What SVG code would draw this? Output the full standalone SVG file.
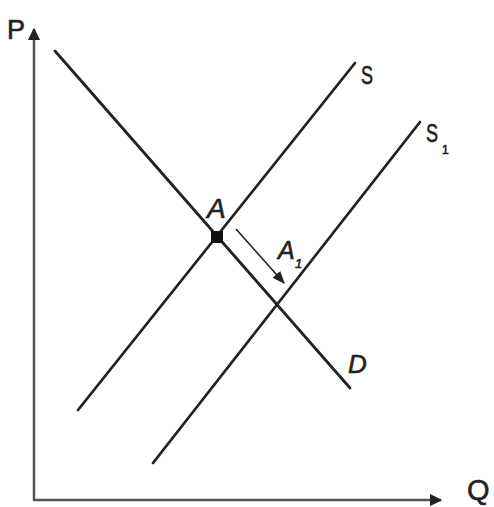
<svg xmlns="http://www.w3.org/2000/svg" width="494" height="507" viewBox="0 0 494 507">
<defs>
<style>
.ax{stroke:#555;stroke-width:2.5;fill:none}
.cv{stroke:#222;stroke-width:2.8;fill:none;stroke-linecap:round}
.lb{font-family:"Liberation Sans",Arial,sans-serif;fill:#222;stroke:#222;stroke-width:0.6}
.it{font-style:italic}
</style>
<marker id="ah" viewBox="0 0 10 10" refX="9" refY="5" markerWidth="5" markerHeight="5" orient="auto" markerUnits="strokeWidth">
<path d="M0,0 L10,5 L0,10 Z" fill="#222"/>
</marker>
<marker id="ahs" viewBox="0 0 10 10" refX="9" refY="5" markerWidth="8" markerHeight="8" orient="auto" markerUnits="strokeWidth">
<path d="M0,1 L10,5 L0,9 Z" fill="#222"/>
</marker>
</defs>
<rect width="494" height="507" fill="#fff"/>
<g id="axes">
<line class="ax" x1="34" y1="500" x2="34" y2="29" marker-end="url(#ah)"/>
<line class="ax" x1="33" y1="500" x2="441" y2="500" marker-end="url(#ah)"/>
<text class="lb" x="7" y="39" font-size="27">P</text>
<text class="lb" x="467" y="500" font-size="29">Q</text>
</g>
<g id="D">
<line class="cv" x1="55" y1="51" x2="350" y2="388"/>
<text class="lb it" x="348" y="373" font-size="26">D</text>
</g>
<g id="S">
<line class="cv" x1="78" y1="410" x2="355" y2="63"/>
<text class="lb" x="361" y="84" font-size="26" textLength="12" lengthAdjust="spacingAndGlyphs">S</text>
</g>
<g id="S1">
<line class="cv" x1="153" y1="463" x2="420" y2="122"/>
<text class="lb" x="426" y="142" font-size="26" textLength="12" lengthAdjust="spacingAndGlyphs">S</text>
<text class="lb" x="442" y="154" font-size="12">1</text>
</g>
<g id="A">
<rect x="211" y="231" width="12" height="12" fill="#111"/>
<text class="lb it" x="207" y="218" font-size="28">A</text>
</g>
<g id="A1">
<text class="lb it" x="278" y="259" font-size="25">A</text>
<text class="lb it" x="295" y="268" font-size="13">1</text>
</g>
<g id="connectors">
<line x1="236" y1="229" x2="284" y2="283" stroke="#222" stroke-width="1.6" marker-end="url(#ahs)"/>
</g>
</svg>
